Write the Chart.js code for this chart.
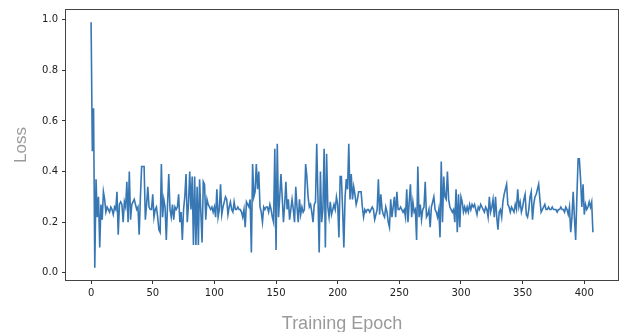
<!DOCTYPE html>
<html>
<head>
<meta charset="utf-8">
<script src="https://cdn.jsdelivr.net/npm/chart.js@4/dist/chart.umd.min.js"></script>
<style>
  html, body { margin: 0; padding: 0; background: #fff; }
  #loss-chart { display: block; }
</style>
</head>
<body>
<canvas id="loss-chart" width="628" height="332"></canvas>
<script>
// loss per epoch
const loss = [
  0.99, 0.48, 0.65, 0.02, 0.37, 0.22, 0.30, 0.10, 0.27, 0.21,
  0.32, 0.29, 0.24, 0.26, 0.25, 0.24, 0.26, 0.25, 0.23, 0.26,
  0.25, 0.32, 0.15, 0.27, 0.28, 0.27, 0.20, 0.28, 0.26, 0.36,
  0.20, 0.40, 0.21, 0.27, 0.28, 0.29, 0.27, 0.25, 0.26, 0.15,
  0.30, 0.42, 0.42, 0.42, 0.21, 0.27, 0.34, 0.26, 0.25, 0.25,
  0.31, 0.22, 0.25, 0.26, 0.22, 0.17, 0.16, 0.43, 0.22, 0.29,
  0.26, 0.13, 0.27, 0.39, 0.25, 0.22, 0.27, 0.21, 0.26, 0.25,
  0.26, 0.31, 0.20, 0.24, 0.13, 0.25, 0.30, 0.39, 0.20, 0.27,
  0.40, 0.25, 0.38, 0.11, 0.38, 0.11, 0.34, 0.11, 0.37, 0.24,
  0.12, 0.36, 0.35, 0.21, 0.29, 0.27, 0.26, 0.25, 0.26, 0.24,
  0.26, 0.22, 0.33, 0.22, 0.25, 0.35, 0.23, 0.26, 0.28, 0.30,
  0.29, 0.23, 0.26, 0.28, 0.25, 0.24, 0.28, 0.25, 0.25, 0.26,
  0.25, 0.25, 0.24, 0.22, 0.25, 0.18, 0.28, 0.27, 0.26, 0.29,
  0.08, 0.43, 0.30, 0.32, 0.43, 0.33, 0.40, 0.26, 0.24, 0.20,
  0.26, 0.25, 0.26, 0.26, 0.24, 0.27, 0.25, 0.22, 0.20, 0.49,
  0.09, 0.51, 0.22, 0.30, 0.39, 0.30, 0.20, 0.27, 0.36, 0.25,
  0.29, 0.21, 0.25, 0.29, 0.25, 0.20, 0.34, 0.26, 0.20, 0.29,
  0.23, 0.26, 0.24, 0.25, 0.43, 0.38, 0.30, 0.26, 0.27, 0.24,
  0.20, 0.27, 0.28, 0.51, 0.30, 0.08, 0.40, 0.20, 0.25, 0.49,
  0.10, 0.47, 0.26, 0.22, 0.28, 0.23, 0.25, 0.27, 0.25, 0.30,
  0.27, 0.14, 0.38, 0.38, 0.25, 0.10, 0.30, 0.37, 0.33, 0.51,
  0.29, 0.39, 0.29, 0.34, 0.31, 0.27, 0.29, 0.32, 0.32, 0.32,
  0.26, 0.22, 0.25, 0.24, 0.25, 0.25, 0.24, 0.25, 0.26, 0.25,
  0.21, 0.23, 0.25, 0.37, 0.23, 0.31, 0.25, 0.23, 0.22, 0.26,
  0.24, 0.20, 0.18, 0.29, 0.22, 0.26, 0.30, 0.22, 0.32, 0.25,
  0.25, 0.26, 0.25, 0.24, 0.25, 0.22, 0.33, 0.20, 0.28, 0.35,
  0.22, 0.28, 0.24, 0.25, 0.13, 0.42, 0.22, 0.27, 0.21, 0.25,
  0.26, 0.36, 0.22, 0.23, 0.25, 0.18, 0.26, 0.28, 0.30, 0.25,
  0.24, 0.22, 0.25, 0.14, 0.44, 0.20, 0.38, 0.30, 0.29, 0.40,
  0.29, 0.26, 0.25, 0.24, 0.25, 0.20, 0.33, 0.16, 0.31, 0.18,
  0.30, 0.28, 0.24, 0.26, 0.24, 0.26, 0.24, 0.27, 0.25, 0.27,
  0.26, 0.27, 0.25, 0.23, 0.26, 0.25, 0.27, 0.26, 0.25, 0.24,
  0.26, 0.25, 0.22, 0.30, 0.24, 0.26, 0.29, 0.22, 0.30, 0.22,
  0.17, 0.24, 0.25, 0.22, 0.28, 0.31, 0.33, 0.35, 0.27, 0.26,
  0.24, 0.26, 0.25, 0.24, 0.27, 0.25, 0.33, 0.26, 0.28, 0.24,
  0.26, 0.29, 0.31, 0.23, 0.22, 0.25, 0.30, 0.32, 0.21, 0.27,
  0.30, 0.31, 0.33, 0.35, 0.29, 0.24, 0.25, 0.26, 0.27, 0.25,
  0.25, 0.26, 0.25, 0.25, 0.26, 0.25, 0.25, 0.25, 0.24, 0.25,
  0.25, 0.26, 0.25, 0.25, 0.24, 0.26, 0.25, 0.23, 0.26, 0.16,
  0.22, 0.32, 0.22, 0.13, 0.30, 0.45, 0.45, 0.37, 0.26, 0.35,
  0.23, 0.27, 0.25, 0.26, 0.28, 0.26, 0.28, 0.16
];
const epochs = loss.map((_, i) => i);

const xTicks = [0, 50, 100, 150, 200, 250, 300, 350, 400];
const yTicks = [0.0, 0.2, 0.4, 0.6, 0.8, 1.0];

// matplotlib style frame around the plot area
const frame = {
  id: 'frame',
  afterDatasetsDraw(chart) {
    const { ctx, chartArea: a } = chart;
    ctx.save();
    ctx.strokeStyle = '#444';
    ctx.lineWidth = 1;
    ctx.strokeRect(a.left - 0.5, a.top - 0.5, a.right - a.left + 1, a.bottom - a.top + 1);
    ctx.restore();
  }
};

new Chart(document.getElementById('loss-chart'), {
  type: 'line',
  data: {
    datasets: [{
      data: epochs.map((e, i) => ({ x: e, y: loss[i] })),
      borderColor: '#3777b3',
      borderWidth: 1.6,
      pointRadius: 0,
      tension: 0,
      fill: false
    }]
  },
  options: {
    responsive: false,
    animation: false,
    devicePixelRatio: 1,
    layout: { padding: { top: 9, right: 10, left: 0, bottom: 0 } },
    plugins: { legend: { display: false }, tooltip: { enabled: false } },
    scales: {
      x: {
        type: 'linear',
        min: -20.35,
        max: 427.35,
        afterBuildTicks: s => { s.ticks = xTicks.map(v => ({ value: v })); },
        afterFit: s => { s.height = 52; },
        border: { display: false },
        grid: { drawOnChartArea: false, drawTicks: true, tickLength: 4, tickColor: '#333' },
        ticks: { color: '#222', padding: 3, maxRotation: 0, font: { family: 'DejaVu Sans', size: 10 } },
        title: {
          display: true,
          text: 'Training Epoch',
          color: '#9a9a9a',
          padding: { top: 0, bottom: 0 },
          font: { family: 'Liberation Sans', size: 18, lineHeight: 0.85 }
        }
      },
      y: {
        min: -0.0285,
        max: 1.0385,
        afterBuildTicks: s => { s.ticks = yTicks.map(v => ({ value: v })); },
        afterFit: s => { s.width = 66; },
        border: { display: false },
        grid: { drawOnChartArea: false, drawTicks: true, tickLength: 4, tickColor: '#333' },
        ticks: { color: '#222', padding: 4, callback: v => v.toFixed(1), font: { family: 'DejaVu Sans', size: 10 } },
        title: {
          display: true,
          text: 'Loss',
          color: '#9a9a9a',
          padding: { top: 11, bottom: 0 },
          font: { family: 'Liberation Sans', size: 17 }
        }
      }
    }
  },
  plugins: [frame]
});
</script>
</body>
</html>
